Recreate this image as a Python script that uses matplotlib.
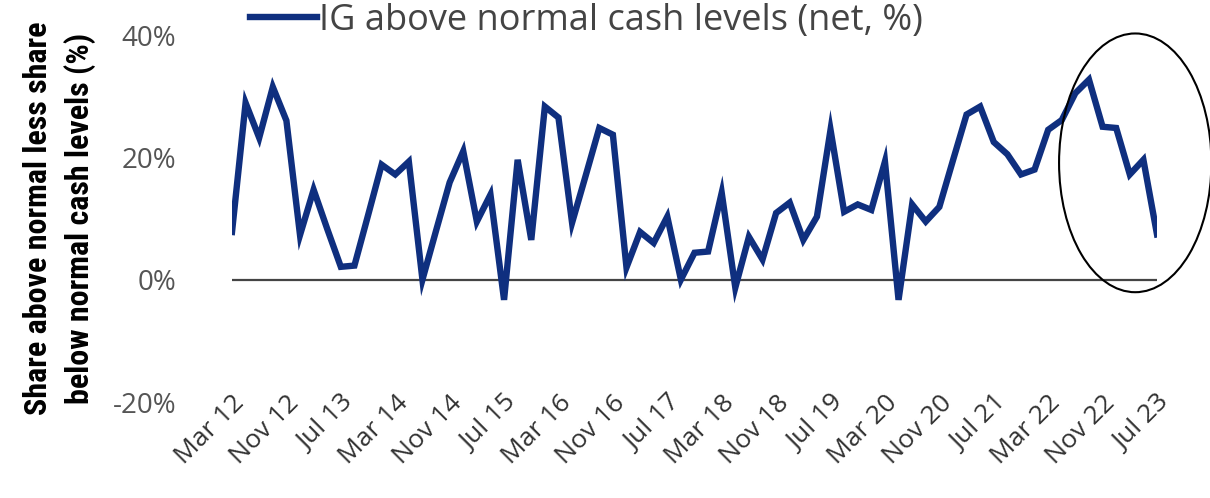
import matplotlib
matplotlib.use("Agg")
import matplotlib.pyplot as plt
from matplotlib.patches import Ellipse
from matplotlib import font_manager

dates = ["Mar 12","May 12","Jul 12","Sep 12","Nov 12","Jan 13","Mar 13","May 13","Jul 13","Sep 13",
         "Nov 13","Jan 14","Mar 14","May 14","Jul 14","Sep 14","Nov 14","Jan 15","Mar 15","May 15",
         "Jul 15","Sep 15","Nov 15","Jan 16","Mar 16","May 16","Jul 16","Sep 16","Nov 16","Jan 17",
         "Mar 17","May 17","Jul 17","Sep 17","Nov 17","Jan 18","Mar 18","May 18","Jul 18","Sep 18",
         "Nov 18","Jan 19","Mar 19","May 19","Jul 19","Sep 19","Nov 19","Jan 20","Mar 20","May 20",
         "Jul 20","Sep 20","Nov 20","Jan 21","Mar 21","May 21","Jul 21","Sep 21","Nov 21","Jan 22",
         "Mar 22","May 22","Jul 22","Sep 22","Nov 22","Jan 23","Mar 23","May 23","Jul 23"]
ig_cash = [7.8, 28.9, 23.2, 31.5, 26.0, 7.3, 14.7, 8.3, 2.1, 2.3,
           10.5, 18.8, 17.2, 19.3, 0.0, 8.0, 15.9, 21.0, 9.5, 13.9,
           -3.3, 19.6, 6.5, 28.3, 26.5, 9.3, 17.0, 24.8, 23.7, 2.0,
           7.8, 6.0, 10.3, 0.0, 4.4, 4.6, 14.2, -1.3, 7.0, 3.3,
           10.9, 12.6, 6.5, 10.3, 24.5, 11.1, 12.3, 11.4, 19.3, -3.3,
           12.3, 9.5, 11.9, 19.5, 27.0, 28.3, 22.5, 20.5, 17.2, 18.0,
           24.5, 26.1, 30.5, 32.7, 25.0, 24.8, 17.2, 19.6, 7.4]
tick_labels = dates[::4]
y_ticks = [-20, 0, 20, 40]
y_tick_labels = ["-20%", "0%", "20%", "40%"]
series_name = "IG above normal cash levels (net, %)"

navy = "#0f2f7f"
grey = "#555555"

names = {f.name for f in font_manager.fontManager.ttflist}
cond = None
for cand in ["Liberation Sans Narrow", "DejaVu Sans Condensed", "Roboto Condensed"]:
    if cand in names:
        cond = cand
        break

fig = plt.figure(figsize=(12.10, 4.98), dpi=100)
ax = fig.add_axes([232/1210, 1-402/498, (1157-232)/1210, (402-35)/498])

x = list(range(len(ig_cash)))
ax.plot(x, ig_cash, color=navy, lw=4.6, solid_joinstyle="miter", label=series_name, zorder=3)
ax.axhline(0, color="#444444", lw=1.6, zorder=2)

ax.set_xlim(0, len(ig_cash) - 1)
ax.set_ylim(-20, 40)
ax.set_yticks(y_ticks)
ax.set_yticklabels(y_tick_labels, fontsize=20, color=grey, family="Open Sans")
ax.set_xticks(x[::4])
ax.set_xticklabels(tick_labels, rotation=45, ha="right", rotation_mode="anchor",
                   fontsize=19, color="#333333", family="Open Sans")
ax.tick_params(axis="both", length=0)
ax.tick_params(axis="x", pad=-8)
ax.tick_params(axis="y", pad=40)
for s in ax.spines.values():
    s.set_visible(False)

if cond:
    lab_kw = dict(family=cond, fontsize=23)
else:
    lab_kw = dict(family="DejaVu Sans", fontstretch="condensed", fontsize=18)
ax.set_ylabel("Share above normal less share\nbelow normal cash levels (%)",
              fontweight="bold", linespacing=1.45, **lab_kw)
ax.yaxis.set_label_coords(-0.147, 0.5)

ell = Ellipse((66.4, 19.1), 11.2, 42.3, fill=False, edgecolor="black", lw=1.5, clip_on=False, zorder=4)
ax.add_patch(ell)

leg = ax.legend(loc="upper left", bbox_to_anchor=(250/1210, 1 - 3/498), bbox_transform=fig.transFigure,
                frameon=False, handlelength=1.85, handletextpad=0.06, borderpad=0.0, borderaxespad=0.0,
                prop={"family": "Open Sans", "size": 26})
for t in leg.get_texts():
    t.set_color("#444444")

fig.savefig("out.png", dpi=100)
